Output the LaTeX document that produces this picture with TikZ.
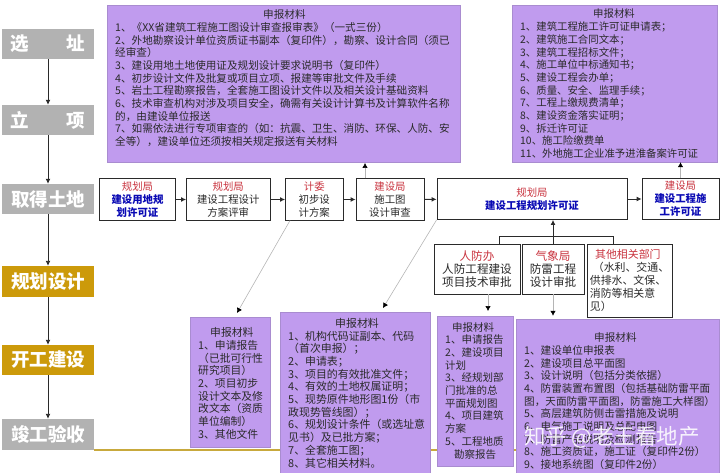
\documentclass[tikz,border=0pt]{standalone}
\usepackage{fontspec}
\setmainfont{Noto Sans CJK SC}
\usetikzlibrary{arrows.meta,calc,backgrounds}
\definecolor{purp}{HTML}{C09BEE}
\definecolor{purpedge}{HTML}{A98CD0}
\definecolor{gold}{HTML}{CC9A0A}
\definecolor{stagegray}{HTML}{B2B2B2}
\definecolor{redt}{HTML}{C9343F}
\definecolor{bluet}{HTML}{0A0AB4}
\definecolor{ink}{HTML}{2A2A2A}
\definecolor{linegray}{HTML}{B5B5B5}
\definecolor{goldline}{HTML}{C8A93C}
\newcommand{\rd}[1]{\textcolor{redt}{#1}}
\newcommand{\bl}[1]{\textcolor{bluet}{\bfseries #1}}
\tikzset{
  x=1pt,y=-1pt,
  stage/.style={fill=#1,draw=none,text=white,inner sep=0pt,font=\fontsize{18.5}{20}\selectfont\bfseries},
  matbox/.style={fill=purp,draw=purpedge,line width=.5pt,inner sep=0pt},
  mattext/.style={anchor=north west,inner sep=0pt,align=left,text=ink,font=\fontsize{#1}{12.7}\selectfont},
  flowbox/.style={fill=white,draw=ink,line width=.9pt,inner sep=0pt,align=center,text=ink,font=\fontsize{10.4}{13}\selectfont},
  widebox/.style={flowbox,font=\fontsize{11.6}{13}\selectfont},
  flowleft/.style={fill=white,draw=ink,line width=.9pt,inner sep=0pt,align=left,text=ink,font=\fontsize{10.9}{12.9}\selectfont},
  main/.style={draw=ink,line width=.9pt,-{Latex[length=5pt,width=5pt]}},
  thinline/.style={draw=linegray,line width=.6pt,-{Latex[length=5pt,width=5.5pt,color=black]}},
}
% name, x0, y0, x1, y1, style
\newcommand{\bx}[6]{\node[#6,minimum width=#4pt-#2pt,minimum height=#5pt-#3pt] (#1) at ({(#2+#4)/2},{(#3+#5)/2})}
\begin{document}
\begin{tikzpicture}
\useasboundingbox (0,0) rectangle (720,473);
% stages
\bx{s1}{2}{29}{94}{59}{stage=stagegray} {选\hspace{38pt}址};
\bx{s2}{2}{105}{94}{135}{stage=stagegray} {立\hspace{38pt}项};
\bx{s3}{2}{184}{94}{214}{stage=stagegray} {取得土地};
\bx{s4}{2}{266}{94}{297}{stage=gold} {规划设计};
\bx{s5}{2}{345}{94}{375}{stage=gold} {开工建设};
\bx{s6}{2}{419}{94}{450}{stage=stagegray} {竣工验收};
% top material boxes
\bx{m1}{107}{5}{460}{162}{matbox} {};
\node[mattext=10.6] (m1t) at (115,9.5) {\hspace{148pt}申报材料\\
1、《XX省建筑工程施工图设计审查报审表》（一式三份）\\
2、外地勘察设计单位资质证书副本（复印件），勘察、设计合同（须已\\
经审查）\\
3、建设用地土地使用证及规划设计要求说明书（复印件）\\
4、初步设计文件及批复或项目立项、报建等审批文件及手续\\
5、岩土工程勘察报告，全套施工图设计文件以及相关设计基础资料\\
6、技术审查机构对涉及项目安全，确需有关设计计算书及计算软件名称\\
的，由建设单位报送\\
7、如需依法进行专项审查的（如：抗震、卫生、消防、环保、人防、安\\
全等），建设单位还须按相关规定报送有关材料};
\bx{m2}{512}{5}{717}{162}{matbox} {};
\node[mattext=10.4] (m2t) at (520,9) {\hspace{73pt}申报材料\\
1、建筑工程施工许可证申请表；\\
2、建筑施工合同文本；\\
3、建筑工程招标文件；\\
4、施工单位中标通知书；\\
5、建设工程会办单；\\
6、质量、安全、监理手续；\\
7、工程上缴规费清单；\\
8、建设资金落实证明；\\
9、拆迁许可证\\
10、施工险缴费单\\
11、外地施工企业准予进淮备案许可证};
% flow boxes
\bx{a}{99.5}{178.5}{175.5}{220.5}{flowbox} {\rd{规划局}\\\bl{建设用地规}\\\bl{划许可证}};
\bx{b}{186.5}{178.5}{270}{220.5}{flowbox} {\rd{规划局}\\建设工程设计\\方案评审};
\bx{c}{285.5}{178.5}{343}{220.5}{flowbox} {\rd{计委}\\初步设\\计方案};
\bx{d}{356}{178.5}{424}{220.5}{flowbox} {\rd{建设局}\\施工图\\设计审查};
\bx{e}{437}{178.5}{627}{219.5}{flowbox} {\rd{规划局}\\\bl{建设工程规划许可证}};
\bx{f}{642}{178.5}{719}{219.5}{flowbox} {\rd{建设局}\\\bl{建设工程施}\\\bl{工许可证}};
\bx{g}{434}{244}{520}{294}{widebox} {\rd{人防办}\\人防工程建设\\项目技术审批};
\bx{h}{522}{244}{584}{294}{widebox} {\rd{气象局}\\防雷工程\\设计审批};
\bx{i}{587}{244}{672}{317}{flowleft} {\makebox[76pt][c]{\rd{其他相关部门}}\\\hspace{3pt}（水利、交通、\\供排水、文保、\\消防等相关意\\见）};
% lower material boxes
\bx{p1}{190}{317}{270}{447}{matbox} {};
\node[mattext=10.8] (p1t) at (198,327.5) {\hspace{12pt}申报材料\\
1、申请报告\\
（已批可行性\\
研究项目）\\
2、项目初步\\
设计文本及修\\
改文本（资质\\
单位编制）\\
3、其他文件};
\bx{p2}{280}{312}{430}{473}{matbox} {};
\node[mattext=10.9] (p2t) at (288,318) {\hspace{47pt}申报材料\\
1、机构代码证副本、代码\\
（首次申报）；\\
2、申请表；\\
3、项目的有效批准文件；\\
4、有效的土地权属证明；\\
5、现势原件地形图1份（市\\
政现势管线图）；\\
6、规划设计条件（或选址意\\
见书）及已批方案；\\
7、全套施工图；\\
8、其它相关材料。};
\bx{p3}{437}{316}{513}{466}{matbox} {};
\node[mattext=10.5] (p3t) at (445,322) {\hspace{7pt}申报材料\\
1、申请报告\\
2、建设项目\\
计划\\
3、经规划部\\
门批准的总\\
平面规划图\\
4、项目建筑\\
方案\\
5、工程地质\\
\hspace{9pt}勘察报告};
\bx{p4}{516}{319}{719}{473}{matbox} {};
\node[mattext=10.6] (p4t) at (524,332.5) {\hspace{70pt}申报材料\\
1、建设单位申报表\\
2、建设项目总平面图\\
3、设计说明（包括分类依据）\\
4、防雷装置布置图（包括基础防雷平面\\
图，天面防雷平面图，防雷施工大样图）\\
5、高层建筑防侧击雷措施及说明\\
6、电气施工说明及总配电图\\
7、防雷产品说明及检测报告\\
8、施工资质证，施工证（复印件2份）\\
9、接地系统图（复印件2份）};
% watermark
\node[inner sep=0pt,text=white,opacity=.88,font=\fontsize{21.5}{23}\selectfont] (wm) at (612,437) {知乎 @老王看地产};
% free ends of connectors
\coordinate (gtop) at (499,244);
\coordinate (itop) at (613,244);
\coordinate (barl) at (499,236);
\coordinate (barr) at (613,236);
\coordinate (cs) at (290,220.5);
\coordinate (ct) at (237,313);
\coordinate (et) at (383,308);
\coordinate (gs) at (488,294);
\coordinate (gt) at (488,311);
\coordinate (ds) at (365,178.5);
\coordinate (dt) at (365,163);
% connectors
\begin{scope}[on background layer]
\draw[goldline,line width=1.6pt] (s6.south east) -- (p4.west |- s6.south);
\end{scope}
\draw[main] (s1) -- (s2);
\draw[main] (s2) -- (s3);
\draw[main] (s3) -- (s4);
\draw[main] (s4) -- (s5);
\draw[main] (s5) -- (s6);
\draw[main] (a) -- (b);
\draw[main] (b) -- (c);
\draw[main] (c) -- (d);
\draw[main] (d) -- (e);
\draw[main] (e) -- (f);
\draw[main] (h.north) -- (e.south -| h.north);
\draw[draw=ink,line width=.9pt] (gtop) -- (barl) -- (barr) -- (itop);
\draw[thinline] (cs) -- (ct);
\draw[thinline] (e.south west) -- (et);
\draw[thinline] (gs) -- (gt);
\draw[thinline] (h.south) -- (h.south |- p3.north);
\draw[thinline] (ds) -- (dt);
\draw[thinline] (f.north) -- (f.north |- m2.south);
\end{tikzpicture}
\end{document}
